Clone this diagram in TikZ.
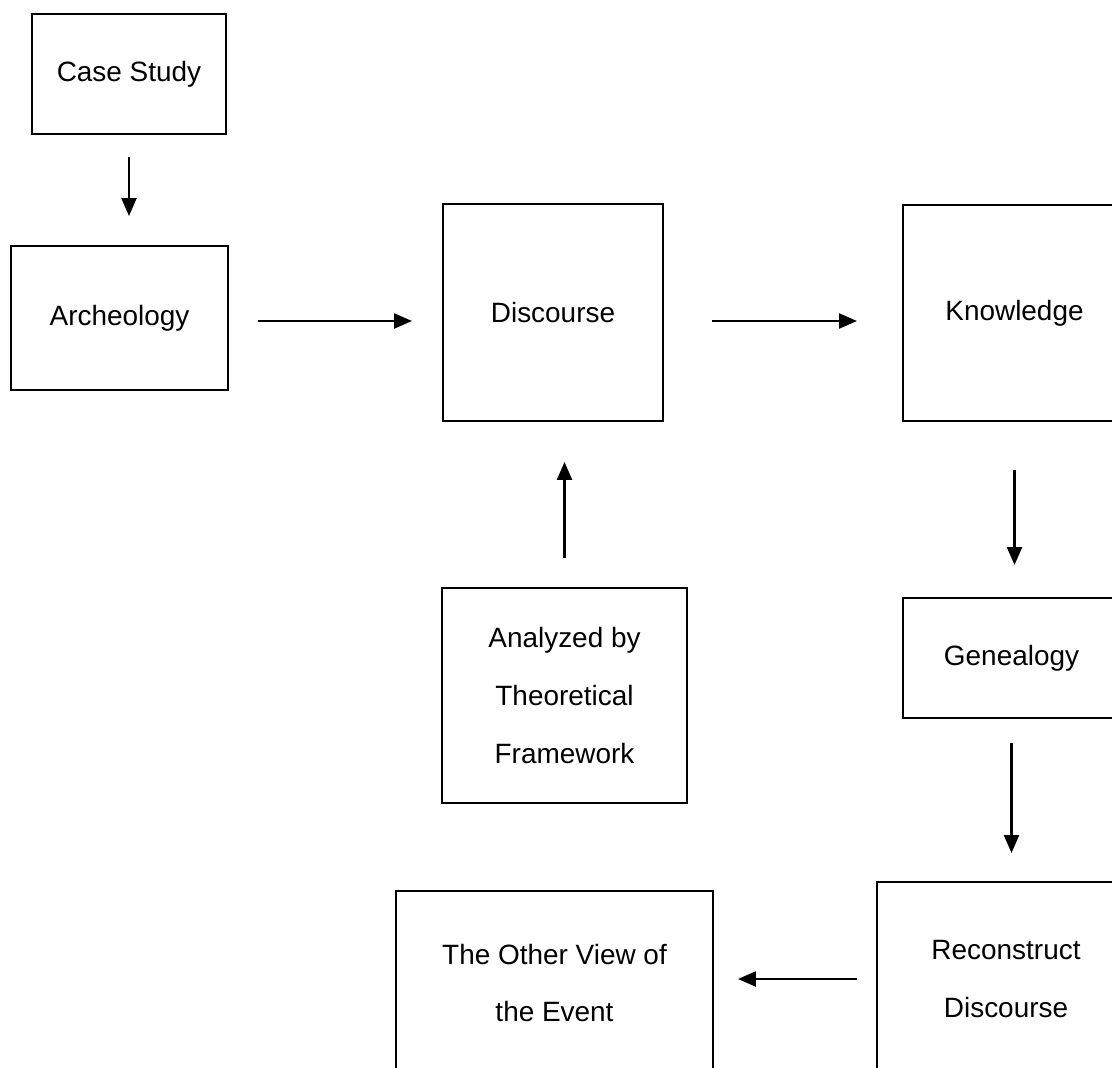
\documentclass[tikz,border=0pt]{standalone}
\usepackage{fontspec}
\setmainfont{Liberation Sans}
\usepackage{tikz}
\usetikzlibrary{arrows.meta, positioning}

\begin{document}
\begin{tikzpicture}[
  x=0.02cm, y=-0.02cm,
  box/.style={rectangle, draw, line width=1.5pt, align=center, inner sep=0pt, outer sep=0pt, font=\fontsize{15.9}{33}\selectfont},
  arrow/.style={-{Triangle[length=0.36cm, width=0.3cm]}, line width=1.3pt}
]
  \useasboundingbox (0,0) rectangle (1112,1068);
  \clip (0,0) rectangle (1112,1068);

  \node[box, minimum width=3.88cm, minimum height=2.4cm] (case) at (129,74) {Case Study};
  \node[box, minimum width=4.34cm, minimum height=2.88cm] (arch) at (119.5,318) {Archeology};
  \node[box, minimum width=4.4cm, minimum height=4.34cm] (disc) at (553,312.5) {Discourse};
  \node[box, minimum width=4.46cm, minimum height=4.32cm] (know) at (1014.5,313) {Knowledge};
  \node[box, minimum width=4.9cm, minimum height=4.3cm] (anal) at (564.5,695.5) {Analyzed by\\Theoretical\\Framework};
  \node[box, minimum width=4.34cm, minimum height=2.4cm] (gen) at (1011.5,658) {Genealogy};
  \node[box, minimum width=5.16cm, minimum height=3.88cm] (rec) at (1006,979) {Reconstruct\\Discourse};
  \node[box, minimum width=6.34cm, minimum height=3.68cm] (other) at (554.5,983) {The Other View of\\the Event};

  \draw[arrow, shorten <=0.46cm, shorten >=0.6cm] (case.south) -- (case.south |- arch.north);
  \draw[arrow, shorten <=0.6cm, shorten >=0.62cm] ([yshift=-0.06cm]arch.east) -- ([yshift=-0.06cm]arch.east -| disc.west);
  \draw[arrow, shorten <=0.98cm, shorten >=0.92cm] ([yshift=-0.17cm]disc.east) -- ([yshift=-0.17cm]disc.east -| know.west);
  \draw[arrow, shorten <=0.6cm, shorten >=0.82cm] (anal.north) -- (anal.north |- disc.south);
  \draw[arrow, shorten <=0.98cm, shorten >=0.66cm] (know.south) -- (know.south |- gen.north);
  \draw[arrow, shorten <=0.5cm, shorten >=0.58cm] (gen.south) -- (gen.south |- rec.north);
  \draw[arrow, shorten <=0.4cm, shorten >=0.5cm] (rec.west) -- (rec.west -| other.east);
\end{tikzpicture}
\end{document}
